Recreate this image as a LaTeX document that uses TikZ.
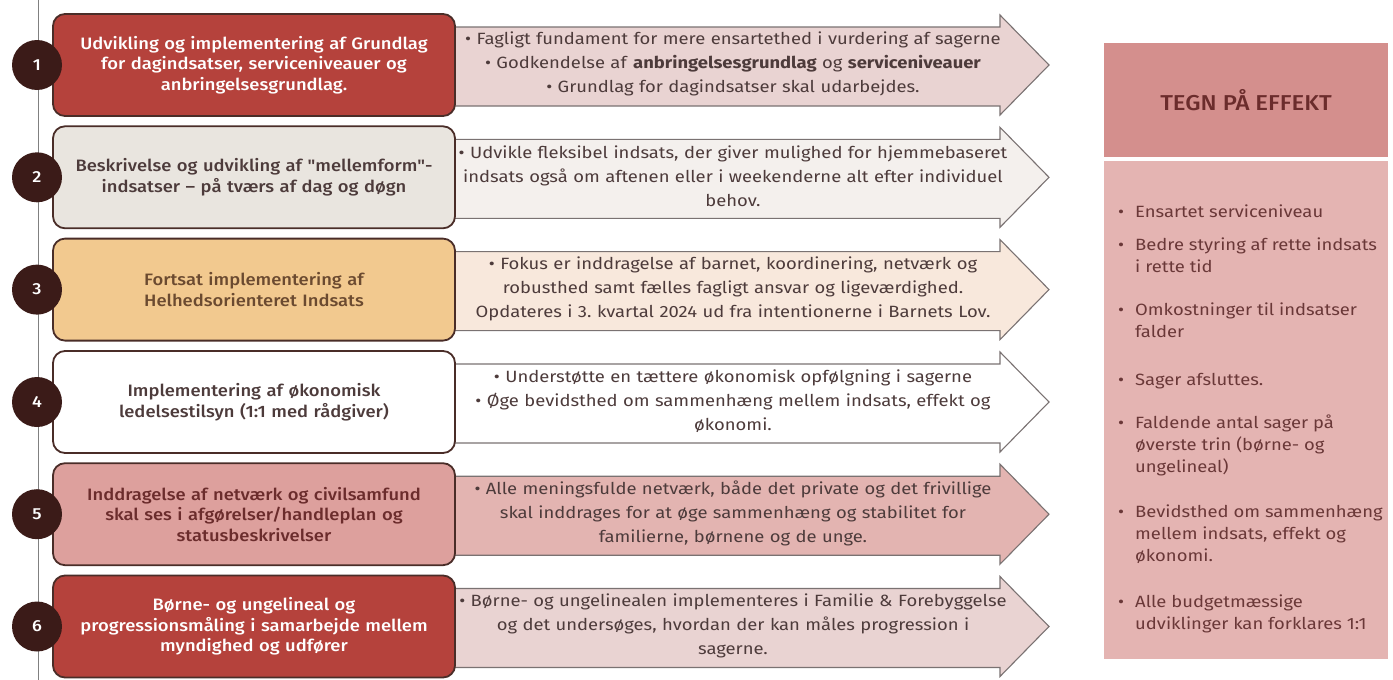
\documentclass[tikz,border=0pt]{standalone}
\usepackage{fontspec}
\setmainfont{Fira Sans}
\newfontfamily\medfont[FakeStretch=1.115]{Fira Sans Medium}
\newfontfamily\arrfont[FakeStretch=1.13]{Fira Sans}
\usetikzlibrary{calc}
\frenchspacing
\definecolor{darkred}{HTML}{B5423C}
\definecolor{greybox}{HTML}{E9E5DF}
\definecolor{tanbox}{HTML}{F2C98F}
\definecolor{pinkbox}{HTML}{DDA09D}
\definecolor{arrowpink}{HTML}{E9D3D2}
\definecolor{arrowgrey}{HTML}{F4F0ED}
\definecolor{arrowtan}{HTML}{F8E8DC}
\definecolor{arrowrose}{HTML}{E3B4B1}
\definecolor{circ}{HTML}{3B1B18}
\definecolor{boxborder}{HTML}{4A2D28}
\definecolor{arrowborder}{HTML}{7A7272}
\definecolor{txtdark}{HTML}{4D3B3B}
\definecolor{txtbrown}{HTML}{6B4A30}
\definecolor{txtmaroon}{HTML}{6B2C2C}
\definecolor{panelhead}{HTML}{D48F8D}
\definecolor{panelbody}{HTML}{E4B4B2}
\definecolor{paneltext}{HTML}{6A3838}
\newcommand\mkrow[7]{%
\begin{scope}[shift={(0,#1)}]
\path[arrowshape, fill=#5] (450,13) -- (1000,13) -- (1000,1) -- (1049,51) -- (1000,101) -- (1000,92) -- (450,92) -- cycle;
\node[atext] (a#2) at (733,50) {#7};
\node[boxnode, fill=#3, text=#4] (b#2) at (254,51) {#6};
\node[numc] (n#2) at (37,51) {#2};
\end{scope}}
\begin{document}
\begin{tikzpicture}[x=1pt,y=-1pt,
  arrowshape/.style={draw=arrowborder, line width=1.1pt, line join=miter},
  atext/.style={text width=560pt, align=center, inner sep=0pt, text=txtdark,
     font=\arrfont\fontsize{16.3}{24}\selectfont\frenchspacing},
  boxnode/.style={draw=boxborder, line width=1.8pt, rounded corners=12pt,
     minimum width=402pt, minimum height=102pt, text width=392pt, align=center,
     inner sep=0pt, font=\medfont\fontsize{16.5}{20.5}\selectfont},
  numc/.style={circle, fill=circ, minimum size=50pt, inner sep=0pt, text=white,
     font=\medfont\fontsize{16}{18}\selectfont},
  ptext/.style={anchor=north west, align=left, inner sep=0pt,
     text=paneltext, font=\arrfont\fontsize{16.3}{22.3}\selectfont}]
\useasboundingbox (0,0) rectangle (1393,680);
\fill[white] (0,0) rectangle (1393,680);
\coordinate (ltop) at (38,0);
\coordinate (lbot) at (38,680);
\draw[line width=0.9pt, color=gray] (ltop) -- (lbot);

\mkrow{14}{1}{darkred}{white}{arrowpink}
 {Udvikling og implementering af Grundlag\\ for dagindsatser, serviceniveauer og\\ anbringelsesgrundlag.}
 {\textbullet\ Fagligt fundament for mere ensartethed i vurdering af sagerne\\
  \textbullet\ Godkendelse af \textbf{anbringelsesgrundlag} og \textbf{serviceniveauer}\\
  \textbullet\ Grundlag for dagindsatser skal udarbejdes.}
\mkrow{126.3}{2}{greybox}{txtdark}{arrowgrey}
 {Beskrivelse og udvikling af "mellemform"-\\ indsatser – på tværs af dag og døgn}
 {\textbullet\ Udvikle fleksibel indsats, der giver mulighed for hjemmebaseret\\
  indsats også om aftenen eller i weekenderne alt efter individuel\\ behov.}
\mkrow{238.6}{3}{tanbox}{txtbrown}{arrowtan}
 {Fortsat implementering af\\ Helhedsorienteret Indsats}
 {\textbullet\ Fokus er inddragelse af barnet, koordinering, netværk og\\
  robusthed samt fælles fagligt ansvar og ligeværdighed.\\
  Opdateres i 3.\ kvartal 2024 ud fra intentionerne i Barnets Lov.}
\mkrow{351}{4}{white}{txtdark}{white}
 {Implementering af økonomisk\\ ledelsestilsyn (1:1 med rådgiver)}
 {\textbullet\ Understøtte en tættere økonomisk opfølgning i sagerne\\
  \textbullet\ Øge bevidsthed om sammenhæng mellem indsats, effekt og\\ økonomi.}
\mkrow{463.2}{5}{pinkbox}{txtmaroon}{arrowrose}
 {Inddragelse af netværk og civilsamfund\\ skal ses i afgørelser/handleplan og\\ statusbeskrivelser}
 {\textbullet\ Alle meningsfulde netværk, både det private og det frivillige\\
  skal inddrages for at øge sammenhæng og stabilitet for\\ familierne, børnene og de unge.}
\mkrow{575.5}{6}{darkred}{white}{arrowpink}
 {Børne- og ungelineal og\\ progressionsmåling i samarbejde mellem\\ myndighed og udfører}
 {\textbullet\ Børne- og ungelinealen implementeres i Familie \& Forebyggelse\\
  og det undersøges, hvordan der kan måles progression i\\ sagerne.}

% panel
\node[fill=panelhead, minimum width=284pt, minimum height=114pt, inner sep=0pt,
  text=txtmaroon, font=\medfont\fontsize{21.5}{24}\selectfont] (head) at (1246,100) {TEGN PÅ EFFEKT};
\node[fill=panelbody, minimum width=284pt, minimum height=498pt, inner sep=0pt] (body) at (1246,410) {};

\node[ptext] (p1) at (1135,201.4) {\strut\llap{\textbullet\hspace{11pt}}Ensartet serviceniveau};
\node[ptext] (p2) at (1135,234.4) {\strut\llap{\textbullet\hspace{11pt}}Bedre styring af rette indsats\\ i rette tid};
\node[ptext] (p3) at (1135,299.4) {\strut\llap{\textbullet\hspace{11pt}}Omkostninger til indsatser\\ falder};
\node[ptext] (p4) at (1135,369.4) {\strut\llap{\textbullet\hspace{11pt}}Sager afsluttes.};
\node[ptext] (p5) at (1135,412.4) {\strut\llap{\textbullet\hspace{11pt}}Faldende antal sager på\\ øverste trin (børne- og\\ ungelineal)};
\node[ptext] (p6) at (1135,501.4) {\strut\llap{\textbullet\hspace{11pt}}Bevidsthed om sammenhæng\\ mellem indsats, effekt og\\ økonomi.};
\node[ptext] (p7) at (1135,591.4) {\strut\llap{\textbullet\hspace{11pt}}Alle budgetmæssige\\ udviklinger kan forklares 1:1};
\end{tikzpicture}
\end{document}
